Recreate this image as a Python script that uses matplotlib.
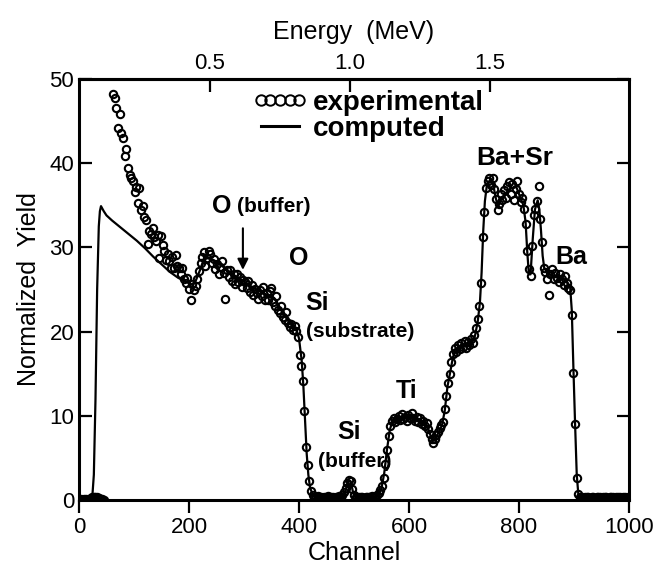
import numpy as np
import matplotlib.pyplot as plt
from matplotlib.lines import Line2D

plt.rcParams['font.family'] = ['Liberation Sans', 'DejaVu Sans']

# experimental spectrum, one point every 3 channels from channel 62
exp_ch = np.arange(62, 1000, 3)
exp_y = [
    48.2, 47.8, 46.6, 44.2, 45.8, 43.6, 43.0, 40.8, 41.7, 39.4,
    38.6, 38.3, 37.9, 36.6, 37.2, 35.3, 37.1, 34.5, 34.9, 33.6,
    33.2, 30.4, 32.0, 31.6, 32.3, 31.2, 30.8, 31.5, 28.8, 31.3,
    30.3, 29.6, 28.5, 29.2, 28.4, 27.6, 28.9, 27.5, 29.1, 27.8,
    27.6, 26.9, 27.5, 26.2, 25.8, 26.4, 25.1, 23.8, 25.7, 25.0,
    25.4, 26.3, 27.2, 28.2, 28.9, 29.4, 27.8, 28.7, 29.6, 29.2,
    28.1, 28.6, 27.4, 28.0, 26.8, 27.7, 28.4, 27.0, 23.9, 27.3,
    26.5, 27.3, 26.0, 26.8, 25.7, 26.9, 25.9, 26.5, 25.3, 26.1,
    25.9, 25.2, 26.0, 24.7, 25.5, 24.3, 25.1, 24.6, 23.9, 24.9,
    24.2, 25.3, 23.8, 24.6, 23.7, 24.8, 25.2, 23.5, 23.0, 24.2,
    22.6, 22.2, 23.1, 21.7, 21.4, 22.3, 21.0, 20.6, 20.9, 20.2,
    20.7, 20.1, 19.4, 17.2, 15.9, 14.1, 10.6, 6.3, 4.1, 2.2,
    1.1, 0.6, 0.4, 0.3, 0.5, 0.3, 0.4, 0.2, 0.4, 0.3,
    0.5, 0.3, 0.4, 0.3, 0.2, 0.4, 0.3, 0.5, 0.4, 0.6,
    0.9, 1.4, 2.0, 2.4, 2.3, 1.3, 0.6, 0.4, 0.3, 0.4,
    0.3, 0.4, 0.2, 0.4, 0.3, 0.4, 0.3, 0.5, 0.4, 0.5,
    0.6, 0.8, 1.2, 1.7, 2.6, 4.3, 5.9, 7.6, 8.8, 9.4,
    9.8, 9.3, 9.6, 10.0, 9.5, 10.2, 9.6, 9.9, 9.4, 10.1,
    9.7, 10.3, 9.8, 9.4, 9.9, 9.3, 9.7, 9.0, 9.4, 8.8,
    9.1, 8.4, 7.9, 7.3, 6.8, 7.2, 7.7, 8.1, 8.5, 8.9,
    9.3, 10.8, 12.4, 13.9, 15.0, 16.4, 17.3, 18.1, 17.6, 18.4,
    17.9, 18.7, 18.2, 18.9, 18.1, 18.8, 18.4, 19.1, 18.7, 19.6,
    20.4, 21.5, 23.0, 25.8, 31.2, 34.2, 37.0, 37.9, 38.2, 37.4,
    38.3, 36.9, 35.8, 34.4, 35.2, 36.3, 35.6, 36.8, 35.9, 37.3,
    37.8, 36.4, 37.5, 35.6, 36.9, 37.9, 36.3, 35.4, 35.9, 34.6,
    32.8, 29.6, 27.4, 26.6, 30.2, 33.8, 34.6, 35.5, 37.3, 33.4,
    30.6, 27.6, 27.1, 26.3, 24.3, 26.9, 27.4, 26.2, 27.0, 26.4,
    25.9, 26.8, 26.2, 25.5, 26.6, 25.8, 25.2, 24.9, 22.0, 15.1,
    9.0, 2.6, 0.7, 0.4, 0.3, 0.2, 0.3, 0.4, 0.3, 0.2,
    0.3, 0.4, 0.2, 0.3, 0.3, 0.4, 0.2, 0.3, 0.4, 0.3,
    0.2, 0.3, 0.4, 0.3, 0.2, 0.3, 0.4, 0.3, 0.2, 0.3,
    0.3, 0.2, 0.3,
]

# first channels, before the off-scale part
low_ch = np.arange(0, 46, 3)
low_y = [0.1, 0.1, 0.0, 0.1, 0.1, 0.0, 0.1, 0.2, 0.3, 0.3, 0.4, 0.3, 0.2, 0.1, 0.1, 0.0]

# computed (simulated) spectrum
calc_ch = [0, 20, 24, 27, 30, 33, 36, 38, 40, 45, 50, 60, 75, 90, 105, 120, 135, 150, 165, 180,
           195, 205, 212, 220, 228, 240, 260, 280, 300, 320, 340, 355, 365, 380, 395, 400,
           405, 408, 411, 414, 417, 420, 425, 435, 480, 485, 490, 494, 498, 502, 540, 545,
           550, 555, 560, 565, 570, 590, 610, 625, 635, 643, 650, 660, 665, 670, 675, 680,
           688, 700, 715, 720, 725, 729, 732, 735, 738, 742, 748, 752, 758, 762, 768, 775,
           785, 795, 802, 808, 812, 815, 818, 821, 825, 829, 834, 837, 840, 843, 846, 855,
           870, 885, 893, 896, 899, 902, 905, 908, 912, 1000]
calc_y = [0, 0, 0.2, 3, 12, 25, 32.5, 34.3, 34.9, 34.3, 33.8, 33.2, 32.4, 31.6, 30.8, 29.9, 28.9, 28.0, 27.1, 26.4,
          25.9, 25.6, 26.0, 27.3, 28.8, 28.6, 27.8, 26.8, 25.9, 25.1, 24.4, 24.0, 22.8, 21.3, 20.3, 19.2,
          16.5, 13.5, 9.5, 5.5, 3.0, 1.5, 0.6, 0.35, 0.4, 1.2, 2.2, 2.2, 1.0, 0.4, 0.4, 0.7,
          1.4, 3.2, 6.0, 8.3, 9.4, 9.8, 9.8, 9.2, 8.4, 7.0, 7.5, 8.9, 10.6, 13.5, 15.2, 17.0,
          18.0, 18.4, 18.8, 19.5, 21.2, 23.5, 27.0, 32.0, 35.5, 37.6, 38.0, 37.8, 35.8, 34.8, 35.8, 36.4,
          37.0, 37.2, 36.0, 35.0, 33.0, 29.5, 26.8, 26.8, 31.0, 34.5, 35.6, 34.5, 32.0, 29.0, 27.5, 26.8,
          26.4, 26.2, 25.3, 22.5, 15.5, 9.0, 3.0, 0.6, 0.3, 0.3]

# energy scale (top axis)
energy_ticks = [0.5, 1.0, 1.5]
e_slope = 1.0 / (747 - 238)
e_offset = 0.5 - 238 * e_slope


def ch2e(ch):
    return e_offset + e_slope * np.asarray(ch)


def e2ch(e):
    return (np.asarray(e) - e_offset) / e_slope


fig = plt.figure(figsize=(6.55, 5.65), dpi=100)
ax = fig.add_axes([0.1206, 0.115, 0.8397, 0.7452])

mk = dict(marker='o', ls='none', ms=5.3, mfc='none', mec='black', mew=1.5)
ax.plot(low_ch, low_y, **mk)
ax.plot(exp_ch, exp_y, **mk)
ax.plot(calc_ch, calc_y, color='black', lw=1.6, zorder=3)

ax.set_xlim(0, 1000)
ax.set_ylim(0, 50)
ax.set_xticks(range(0, 1001, 200))
ax.set_yticks(range(0, 51, 10))
for s in ax.spines.values():
    s.set_linewidth(2.2)
ax.tick_params(axis='x', direction='out', length=9, width=1.6, labelsize=16, top=False)
ax.tick_params(axis='y', direction='in', length=9, width=1.6, labelsize=16, right=True)
ax.set_xlabel('Channel', fontsize=18, labelpad=2)
ax.set_ylabel('Normalized  Yield', fontsize=18, labelpad=6)

secax = ax.secondary_xaxis('top', functions=(ch2e, e2ch))
secax.set_xticks(energy_ticks)
secax.set_xticklabels(['%.1f' % e for e in energy_ticks])
secax.tick_params(direction='in', length=9, width=1.6, labelsize=16)
secax.spines['top'].set_linewidth(2.2)
secax.set_xlabel('Energy  (MeV)', fontsize=18, labelpad=10)

# legend
handles = [Line2D([], [], marker='o', ls='none', ms=7.5, mfc='none', mec='black', mew=1.4),
           Line2D([], [], color='black', lw=2.2)]
ax.legend(handles, ['experimental', 'computed'], loc='upper left', bbox_to_anchor=(0.315, 0.975),
          numpoints=5, handlelength=2.0, handletextpad=0.2, labelspacing=0.0,
          borderpad=0, borderaxespad=0, frameon=False,
          prop={'size': 20, 'weight': 'bold'})

# peak labels
bold = dict(fontweight='bold', ha='left', va='center')
ax.text(242, 34.9, 'O', fontsize=18, **bold)
ax.text(287, 34.8, '(buffer)', fontsize=15, **bold)
ax.annotate('', xy=(298, 27.0), xytext=(298, 32.6),
            arrowprops=dict(arrowstyle='-|>', color='black', lw=1.5, mutation_scale=16))
ax.text(400, 28.7, 'O', fontsize=18, fontweight='bold', ha='center', va='center')
ax.text(412, 23.4, 'Si', fontsize=18, **bold)
ax.text(412, 20.0, '(substrate)', fontsize=15, **bold)
ax.text(596, 12.9, 'Ti', fontsize=18, fontweight='bold', ha='center', va='center')
ax.text(491, 8.1, 'Si', fontsize=18, fontweight='bold', ha='center', va='center')
ax.text(502, 4.6, '(buffer)', fontsize=15, fontweight='bold', ha='center', va='center')
ax.text(793, 40.6, 'Ba+Sr', fontsize=19, fontweight='bold', ha='center', va='center')
ax.text(896, 28.9, 'Ba', fontsize=18, fontweight='bold', ha='center', va='center')

fig.savefig('out.png', dpi=100)
